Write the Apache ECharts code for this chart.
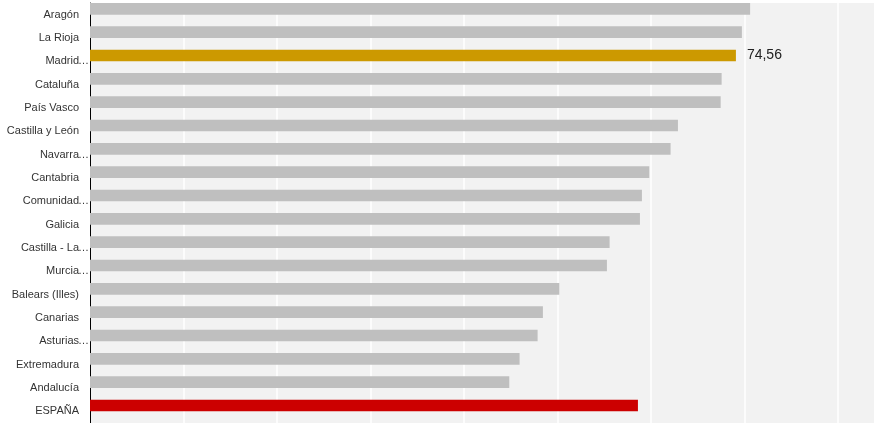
<!DOCTYPE html>
<html>
<head>
<meta charset="utf-8">
<script src="https://cdn.jsdelivr.net/npm/echarts@6/dist/echarts.min.js"></script>
<style>
html,body{margin:0;padding:0;background:#fff;}
#chart{width:874px;height:423px;}
</style>
</head>
<body>
<div id="chart"></div>
<script>
const categories = ["Aragón","La Rioja","Madrid…","Cataluña","País Vasco","Castilla y León","Navarra…","Cantabria","Comunidad…","Galicia","Castilla - La…","Murcia…","Balears (Illes)","Canarias","Asturias…","Extremadura","Andalucía","ESPAÑA"];
const values = [76.2, 75.25, 74.56, 72.91, 72.80, 67.87, 67.02, 64.56, 63.71, 63.48, 59.98, 59.67, 54.17, 52.28, 51.67, 49.59, 48.40, 63.25];
const highlight = {"Madrid…": "#cc9900", "ESPAÑA": "#cc0000"};
const labelled = ["Madrid…"];

const chart = echarts.init(document.getElementById('chart'), null, {renderer: 'canvas'});
const barData = categories.map((c, i) => ({
  value: values[i],
  itemStyle: {color: highlight[c] || '#bfbfbf'},
  label: {show: labelled.indexOf(c) >= 0}
}));

chart.setOption({
  animation: false,
  grid: {left: 90, right: 0, top: 3, bottom: -1, show: true, backgroundColor: '#f2f2f2', borderWidth: 0, containLabel: false},
  xAxis: {
    type: 'value', min: 0, max: 90.5, interval: 10.79,
    axisLabel: {show: false}, axisLine: {show: false}, axisTick: {show: false},
    splitLine: {show: true, showMinLine: false, showMaxLine: false, lineStyle: {color: '#ffffff', width: 1.5}}
  },
  yAxis: {
    type: 'category', data: categories, inverse: true,
    axisLine: {show: true, lineStyle: {color: '#000', width: 1}},
    axisTick: {show: false},
    axisLabel: {
      margin: 1,
      formatter: function (v) {
        if (v.endsWith('…')) return '{t|' + v.slice(0, -1) + '}{e|…}';
        return '{t|' + v + '}{p| }';
      },
      rich: {
        t: {fontFamily: 'Liberation Sans, Arial, sans-serif', fontSize: 11, color: '#333'},
        e: {fontFamily: 'Liberation Sans, Arial, sans-serif', fontSize: 11, color: '#333', width: 10},
        p: {fontSize: 11, width: 10}
      }
    }
  },
  series: [
    {
      type: 'bar', data: barData, barGap: '0%', barCategoryGap: '0%',
      label: {position: 'right', distance: 11, formatter: p => p.value.toFixed(2).replace('.', ','), fontFamily: 'Liberation Sans, Arial, sans-serif', fontSize: 14, color: '#222'}
    },
    {
      type: 'bar', data: categories.map(() => 0), barGap: '0%', barCategoryGap: '0%', silent: true,
      itemStyle: {color: 'rgba(0,0,0,0)'}
    }
  ]
});
</script>
</body>
</html>
